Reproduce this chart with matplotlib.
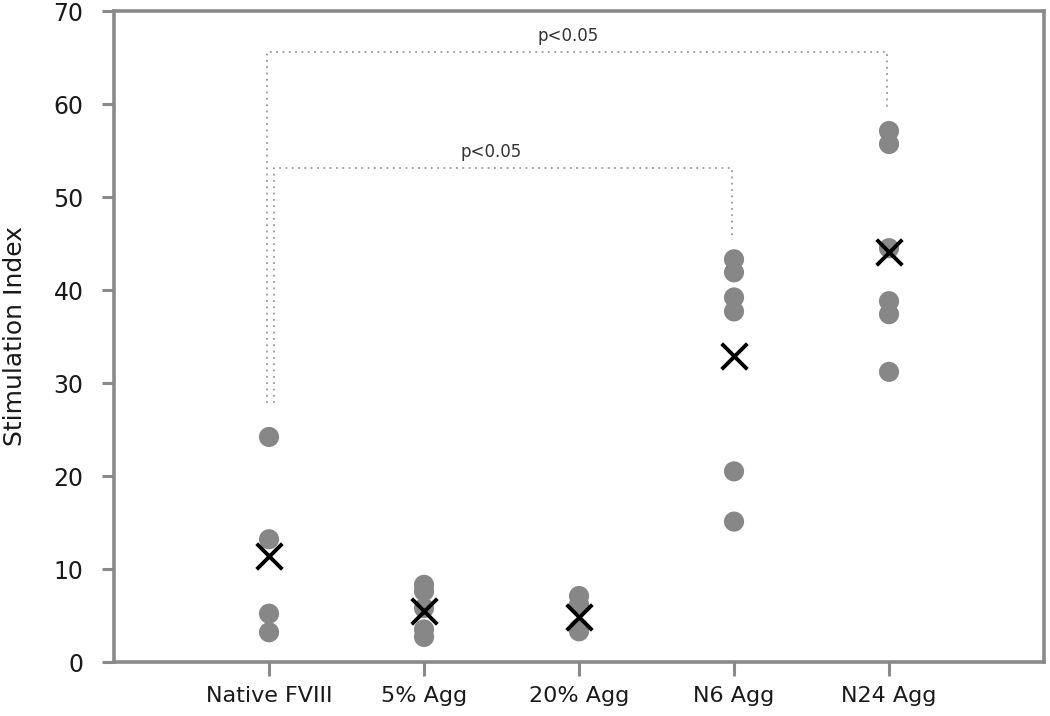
import numpy as np
import matplotlib
matplotlib.use('Agg')
import matplotlib.pyplot as plt

#-- data
groups = ['Native FVIII', '5% Agg', '20% Agg', 'N6 Agg', 'N24 Agg']
native = [24.2, 13.2, 5.2, 3.2]
agg5   = [8.3, 7.6, 5.8, 3.5, 2.7]
agg20  = [7.1, 6.2, 3.6, 3.3]
n6     = [43.3, 41.9, 39.2, 37.7, 20.5, 15.1]
n24    = [57.1, 55.7, 44.5, 38.8, 37.4, 31.2]
means  = [11.4, 5.5, 4.8, 32.9, 44.1]

#-- significance brackets: (group from, group to, bar height, left drop, right drop)
brackets = [(0, 4, 65.6, 27.9, 59.4),
            (0, 3, 53.1, 27.9, 45.4)]
sig_text = 'p<0.05'

plt.rcParams['font.family'] = ['DejaVu Sans']

fig = plt.figure(figsize=(10.5, 7.16), dpi=100)
ax = fig.add_axes([0.1086, 0.0754, 0.8857, 0.9092])

pos = np.arange(1, len(groups) + 1)
for xi, vals in zip(pos, [native, agg5, agg20, n6, n24]):
    ax.scatter([xi] * len(vals), vals, s=210, color='#878787', edgecolors='none', zorder=2)

ax.scatter(pos, means, marker='x', s=340, color='black', linewidths=2.8, zorder=3)

#-- brackets (lower bracket's left leg sits a little to the right of the upper one)
for k, (g0, g1, h, d0, d1) in enumerate(brackets):
    x0, x1 = pos[g0] - 0.015 + 0.047 * k, pos[g1] - 0.01
    ax.plot([x0, x0, x1, x1], [d0, h, h, d1], color='#999999', linestyle=(0, (1, 2.5)), linewidth=1.3, zorder=1)
    ax.text((pos[g0] + pos[g1]) / 2.0 - 0.07, h + 1.75, sig_text, ha='center', va='center', fontsize=12, color='#333333')

ax.set_xlim(0, 6)
ax.set_ylim(0, 70)
ax.set_xticks(pos)
ax.set_xticklabels(groups, fontsize=16, color='#1a1a1a')
ax.set_yticks(np.arange(0, 71, 10))
ax.tick_params(axis='y', labelsize=17, length=9, width=2.2, color='#8a8a8a', pad=13, labelcolor='#1a1a1a')
ax.tick_params(axis='x', length=10, width=2.2, color='#8a8a8a', pad=7)
ax.set_ylabel('Stimulation Index', fontsize=18, labelpad=19, color='#1a1a1a')

for sp in ax.spines.values():
    sp.set_color('#8a8a8a')
    sp.set_linewidth(2.6)

fig.savefig('out.png', dpi=100)
